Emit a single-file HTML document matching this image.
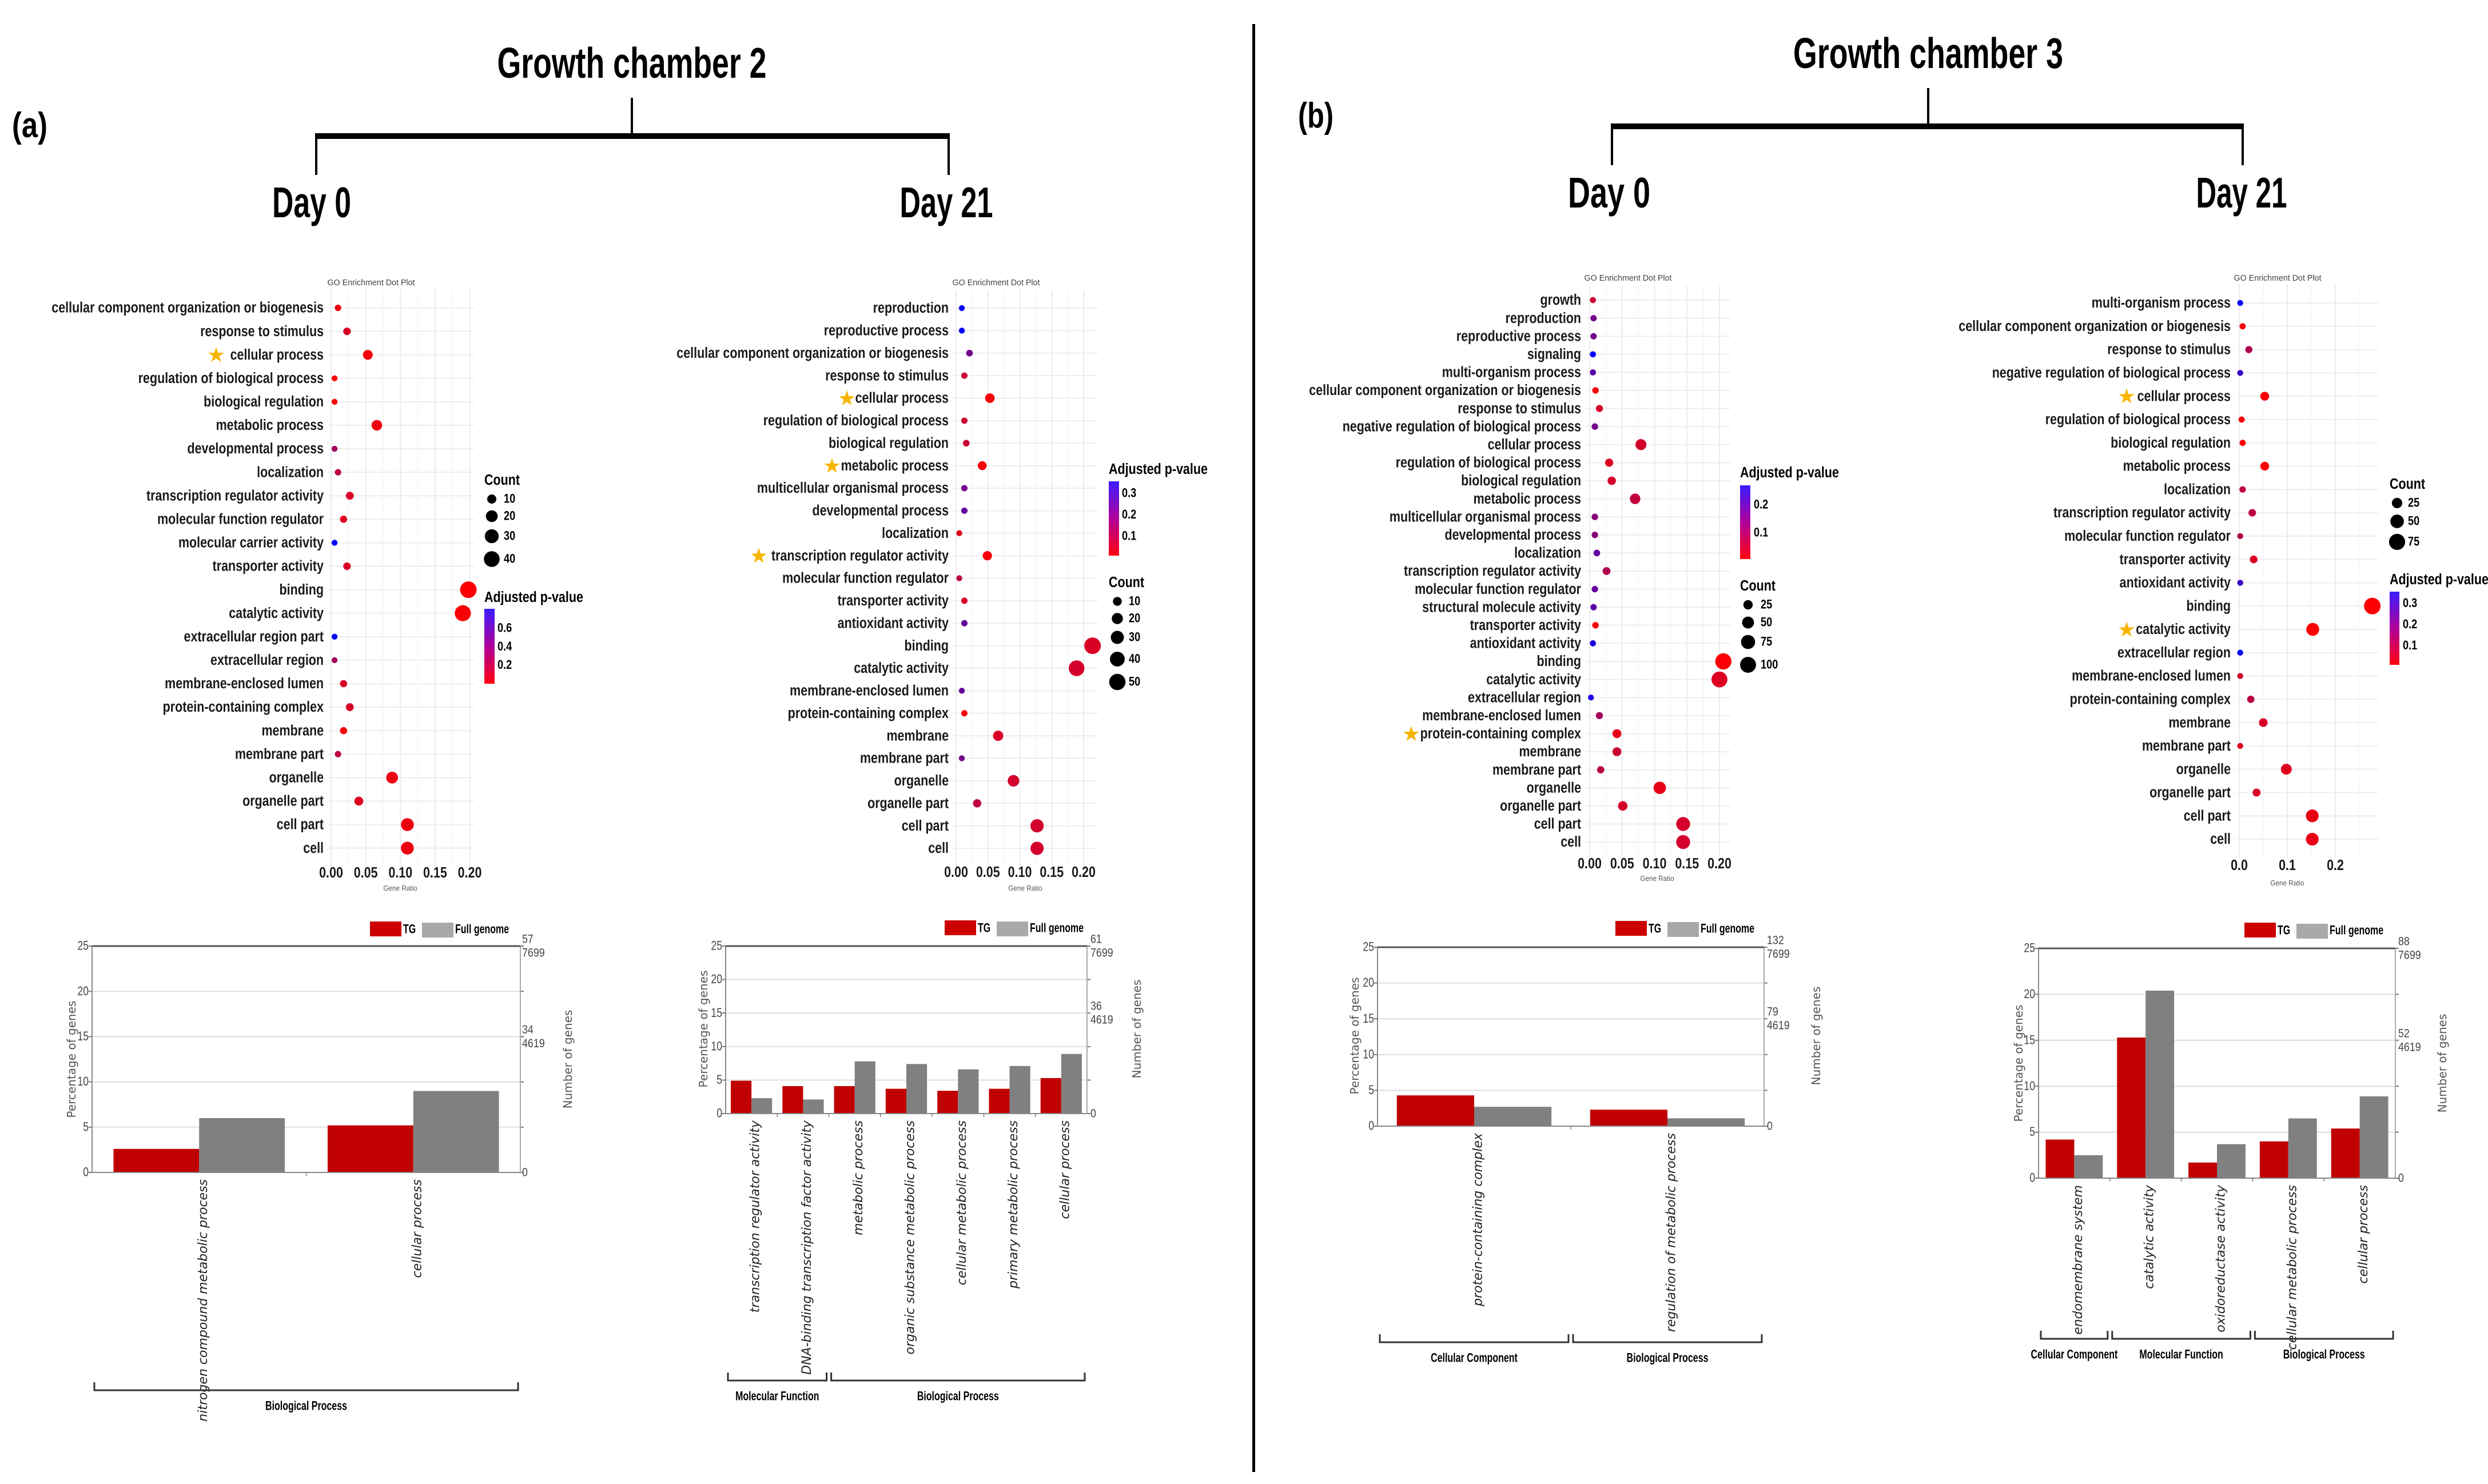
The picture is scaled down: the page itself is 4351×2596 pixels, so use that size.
<!DOCTYPE html>
<html><head><meta charset="utf-8"><title>GO enrichment figure</title>
<style>html,body{margin:0;padding:0;background:#fff}svg{display:block}</style></head>
<body>
<svg id="figure" xmlns="http://www.w3.org/2000/svg" width="4351" height="2596" viewBox="0 0 4351 2596">
<rect x="0" y="0" width="4351" height="2596" fill="#fff"/>
</svg>
<script>
// ---------- DATA ----------
const d1Terms=["cellular component organization or biogenesis","response to stimulus","cellular process","regulation of biological process","biological regulation","metabolic process","developmental process","localization","transcription regulator activity","molecular function regulator","molecular carrier activity","transporter activity","binding","catalytic activity","extracellular region part","extracellular region","membrane-enclosed lumen","protein-containing complex","membrane","membrane part","organelle","organelle part","cell part","cell"];
const d1Ratio=[0.010,0.023,0.053,0.005,0.005,0.066,0.005,0.010,0.027,0.018,0.005,0.023,0.198,0.190,0.005,0.005,0.018,0.027,0.018,0.010,0.088,0.040,0.110,0.110];
const d1Count=[2,5,12,1,1,15,1,2,6,4,1,5,45,42,1,1,4,6,4,2,20,9,25,25];
const d1Padj=[0.05,0.12,0.03,0.01,0.01,0.05,0.3,0.2,0.12,0.1,0.8,0.12,0.01,0.02,0.8,0.3,0.12,0.12,0.03,0.2,0.06,0.1,0.05,0.05];
const d1Ticks=[0,0.05,0.10,0.15,0.20];
const d1TickLabels=["0.00","0.05","0.10","0.15","0.20"];
const d1LegCounts=[10,20,30,40];
const d1LegP=[0.6,0.4,0.2];

const d2Terms=["reproduction","reproductive process","cellular component organization or biogenesis","response to stimulus","cellular process","regulation of biological process","biological regulation","metabolic process","multicellular organismal process","developmental process","localization","transcription regulator activity","molecular function regulator","transporter activity","antioxidant activity","binding","catalytic activity","membrane-enclosed lumen","protein-containing complex","membrane","membrane part","organelle","organelle part","cell part","cell"];
const d2Ratio=[0.009,0.009,0.021,0.013,0.053,0.013,0.016,0.041,0.013,0.013,0.005,0.049,0.005,0.013,0.013,0.214,0.189,0.009,0.013,0.066,0.009,0.090,0.033,0.127,0.127];
const d2Count=[1,1,3,2,13,2,3,10,2,2,1,12,1,2,2,52,46,1,2,16,1,22,8,31,31];
const d2Padj=[0.35,0.35,0.2,0.08,0.02,0.08,0.08,0.02,0.2,0.22,0.05,0.02,0.1,0.06,0.22,0.06,0.07,0.22,0.03,0.06,0.2,0.07,0.1,0.07,0.07];
const d2Ticks=[0,0.05,0.10,0.15,0.20];
const d2TickLabels=["0.00","0.05","0.10","0.15","0.20"];
const d2LegCounts=[10,20,30,40,50];
const d2LegP=[0.3,0.2,0.1];

const d3Terms=["growth","reproduction","reproductive process","signaling","multi-organism process","cellular component organization or biogenesis","response to stimulus","negative regulation of biological process","cellular process","regulation of biological process","biological regulation","metabolic process","multicellular organismal process","developmental process","localization","transcription regulator activity","molecular function regulator","structural molecule activity","transporter activity","antioxidant activity","binding","catalytic activity","extracellular region","membrane-enclosed lumen","protein-containing complex","membrane","membrane part","organelle","organelle part","cell part","cell"];
const d3Ratio=[0.005,0.006,0.006,0.005,0.005,0.009,0.015,0.008,0.079,0.030,0.034,0.070,0.008,0.008,0.011,0.026,0.008,0.006,0.009,0.005,0.206,0.200,0.002,0.015,0.042,0.042,0.017,0.108,0.051,0.144,0.144];
const d3Count=[2,3,3,2,2,4,8,4,40,15,17,35,4,4,5,13,4,3,4,2,105,100,1,8,21,21,9,55,26,73,73];
const d3Padj=[0.06,0.15,0.15,0.27,0.18,0.01,0.05,0.15,0.05,0.04,0.05,0.07,0.13,0.13,0.17,0.09,0.17,0.18,0.01,0.24,0.01,0.04,0.24,0.1,0.03,0.06,0.08,0.03,0.05,0.05,0.05];
const d3Ticks=[0,0.05,0.10,0.15,0.20];
const d3TickLabels=["0.00","0.05","0.10","0.15","0.20"];
const d3LegCounts=[25,50,75,100];
const d3LegP=[0.2,0.1];

const d4Terms=["multi-organism process","cellular component organization or biogenesis","response to stimulus","negative regulation of biological process","cellular process","regulation of biological process","biological regulation","metabolic process","localization","transcription regulator activity","molecular function regulator","transporter activity","antioxidant activity","binding","catalytic activity","extracellular region","membrane-enclosed lumen","protein-containing complex","membrane","membrane part","organelle","organelle part","cell part","cell"];
const d4Ratio=[0.002,0.007,0.020,0.002,0.053,0.005,0.007,0.053,0.007,0.027,0.002,0.030,0.002,0.277,0.153,0.002,0.002,0.024,0.050,0.002,0.098,0.036,0.152,0.152];
const d4Count=[1,2,6,1,15,2,2,15,3,8,1,9,1,80,44,1,1,7,14,1,28,10,43,43];
const d4Padj=[0.35,0.02,0.12,0.28,0.02,0.02,0.02,0.02,0.1,0.1,0.12,0.06,0.28,0.01,0.01,0.35,0.07,0.1,0.06,0.05,0.05,0.06,0.04,0.04];
const d4Ticks=[0,0.1,0.2];
const d4TickLabels=["0.0","0.1","0.2"];
const d4LegCounts=[25,50,75];
const d4LegP=[0.3,0.2,0.1];

const b1Cats=["nitrogen compound metabolic process","cellular process"];
const b1TG=[2.6,5.2];
const b1FG=[6.0,9.0];
const b2Cats=["transcription regulator activity","DNA-binding transcription factor activity","metabolic process","organic substance metabolic process","cellular metabolic process","primary metabolic process","cellular process"];
const b2TG=[4.9,4.1,4.1,3.7,3.4,3.7,5.3];
const b2FG=[2.3,2.1,7.8,7.4,6.6,7.1,8.9];
const b3Cats=["protein-containing complex","regulation of metabolic process"];
const b3TG=[4.3,2.3];
const b3FG=[2.7,1.1];
const b4Cats=["endomembrane system","catalytic activity","oxidoreductase activity","cellular metabolic process","cellular process"];
const b4TG=[4.2,15.3,1.7,4.0,5.4];
const b4FG=[2.5,20.4,3.7,6.5,8.9];
const barYTicks=[0,5,10,15,20,25];
const b1Right=["57","7699","34","4619"];
const b2Right=["61","7699","36","4619"];
const b3Right=["132","7699","79","4619"];
const b4Right=["88","7699","52","4619"];

// ---------- HELPERS ----------
const NS='http://www.w3.org/2000/svg';
const svg=document.getElementById('figure');
function mk(tag,parent,attrs){const e=document.createElementNS(NS,tag);for(const k in attrs)e.setAttribute(k,attrs[k]);parent.appendChild(e);return e;}
function txt(parent,str,x,y,size,o){o=o||{};
 const e=mk('text',parent,{'font-size':size,'font-family':o.family||'"Liberation Sans", sans-serif','font-weight':o.weight||'normal','text-anchor':o.anchor||'start','fill':o.fill||'#000','dominant-baseline':o.baseline||'central'});
 if(o.italic)e.setAttribute('font-style','italic');
 let tr='translate('+x+','+y+')';if(o.rot)tr+=' rotate('+o.rot+')';if(o.sx)tr+=' scale('+o.sx+',1)';
 e.setAttribute('transform',tr);
 if(o.len){e.setAttribute('textLength',o.len);e.setAttribute('lengthAdjust','spacingAndGlyphs');}
 e.textContent=str;return e;}
function measure(str,size,weight,fallback){let l=0;try{const t=mk('text',svg,{'font-size':size,'font-family':'"Liberation Sans", sans-serif','font-weight':weight});t.textContent=str;l=t.getComputedTextLength();svg.removeChild(t);}catch(e){l=0;}return (l&&l>10)?l:fallback;}
const SX_LABEL=476/measure("cellular component organization or biogenesis",26,'bold',652);
const SX_SMALL=143/measure("Biological Process",22,'bold',200);
const SX_TITLE=153/measure("GO Enrichment Dot Plot",15,'normal',170);
function pColor(p,pmin,pmax){let t=(p-pmin)/(pmax-pmin);t=Math.max(0,Math.min(1,t));const r=Math.round(255*(1-t)),b=Math.round(255*t);return 'rgb('+r+',0,'+b+')';}

// ---------- HEADER ----------
function header(L,id){
 const g=mk('g',svg,{});
 
 
 const t=txt(g,L.title,L.tx,L.ty,75,{weight:'bold',anchor:'middle',baseline:'alphabetic',len:L.tw});
 
 
 const stem=mk('line',g,{x1:L.sx,x2:L.sx,y1:L.sy1,y2:L.hy,stroke:'#000','stroke-width':4});
 
 
 const bar=mk('rect',g,{x:L.hx1,y:L.hy,width:L.hx2-L.hx1,height:10,fill:'#000'});
 
 
 [L.hx1+2,L.hx2-2].forEach(x=>{const v=mk('line',g,{x1:x,x2:x,y1:L.hy+5,y2:L.vy2,stroke:'#000','stroke-width':4});
  
  });
 const d0=txt(g,'Day 0',L.d0x,L.dy,75,{weight:'bold',anchor:'middle',baseline:'alphabetic',len:L.d0w});
 
 
 const d21=txt(g,'Day 21',L.d21x,L.dy,75,{weight:'bold',anchor:'middle',baseline:'alphabetic',len:L.d21w});
 
 
 const pl=txt(g,L.panel,L.px,L.py,62,{weight:'bold',baseline:'alphabetic',len:L.pw});
 
 
}
header({title:'Growth chamber 2',tx:1105,ty:136,tw:471,sx:1105,sy1:171,hy:233,hx1:551,hx2:1661,vy2:306,d0x:545,d21x:1655,dy:380,d0w:138,d21w:163,panel:'(a)',px:21,py:240,pw:62},'header-growth-chamber-2');
header({title:'Growth chamber 3',tx:3372,ty:119,tw:472,sx:3372,sy1:154,hy:216,hx1:2817,hx2:3924,vy2:289,d0x:2814,d21x:3920,dy:363,d0w:144,d21w:159,panel:'(b)',px:2270,py:223,pw:62},'header-growth-chamber-3');
const div=mk('rect',svg,{x:2190,y:42,width:5,height:2533,fill:'#000'});



// ---------- DOT PLOTS ----------
function drawDot(id,L,terms,ratio,count,padj,ticks,tickLabels,legCounts,legP){
 const g=mk('g',svg,{});
 
 
 const n=terms.length,step=(L.yLast-L.yFirst)/(n-1);
 const tmax=ticks[ticks.length-1];
 const xs=v=>L.x0+(L.xTickPx-L.x0)*v/tmax;
 const ys=i=>L.yFirst+i*step;
 const top=L.yFirst-step*0.8,bot=L.yLast+step*0.8;
 const half=(ticks[1]-ticks[0])/2;
 for(let k=0;xs(k*half)<=L.plotR;k++){
  const x=xs(k*half);
  const gl=mk('line',g,{x1:x,x2:x,y1:top,y2:bot,stroke:k%2?'#f5f5f5':'#ececec','stroke-width':k%2?1.2:2});
  
  }
 for(let i=0;i<n;i++){
  const gl=mk('line',g,{x1:L.plotL,x2:L.plotR,y1:ys(i),y2:ys(i),stroke:'#ededed','stroke-width':2});
  
  }
 const tt=txt(g,'GO Enrichment Dot Plot',L.titleX,L.titleY,15,{anchor:'middle',fill:'#444',sx:SX_TITLE});
 
 
 const rad=c=>Math.sqrt(5.2*5.2+(14.5*14.5-5.2*5.2)*Math.max(0,c-1)/(L.nmax-1));
 for(let i=0;i<n;i++){
  const lb=txt(g,terms[i],L.labelR,ys(i),26,{weight:'bold',anchor:'end',fill:'#1a1a1a',sx:SX_LABEL});
  
  
  const c=mk('circle',g,{cx:xs(ratio[i]),cy:ys(i),r:rad(count[i]),fill:pColor(padj[i],L.pmin,L.pmax)});
  
  
 }
 for(let k=0;k<ticks.length;k++){
  const tl=txt(g,tickLabels[k],xs(ticks[k]),L.tickY,26,{weight:'bold',anchor:'middle',fill:'#1a1a1a',sx:SX_LABEL});
  
  }
 const gr=txt(g,'Gene Ratio',L.geneX,L.geneY,13,{anchor:'middle',fill:'#555',sx:0.9});
 
 
 L.stars.forEach(s=>{const st=txt(g,'\u2605',s[1],ys(s[0])+1,36,{anchor:'middle',fill:'#f7b500',family:'"DejaVu Sans", sans-serif'});
  
  });
 const ct=txt(g,'Count',L.cX,L.cY,26,{weight:'bold',sx:SX_LABEL});
 
 
 legCounts.forEach((c,k)=>{
  const d=mk('circle',g,{cx:L.cDotX,cy:L.cYs[k],r:rad(c),fill:'#000'});
  
  
  const l=txt(g,String(c),L.cLabX,L.cYs[k],22,{weight:'bold',sx:SX_LABEL});
  
  });
 const pt=txt(g,'Adjusted p-value',L.pX,L.pY,26,{weight:'bold',sx:SX_LABEL});
 
 
 const gid='grad-'+id;
 const defs=mk('defs',g,{});
 const lg=mk('linearGradient',defs,{id:gid,x1:0,y1:0,x2:0,y2:1});
 mk('stop',lg,{'offset':'0','stop-color':'#3b1cff'});
 mk('stop',lg,{'offset':'0.5','stop-color':'#b0009a'});
 mk('stop',lg,{'offset':'1','stop-color':'#ff0010'});
 const gb=mk('rect',g,{x:L.gx1,y:L.gy1,width:L.gx2-L.gx1,height:L.gy2-L.gy1,fill:'url(#'+gid+')'});
 
 
 const py=v=>L.gy2-(L.gy2-L.gy1)*(v-L.pmin)/(L.pmax-L.pmin);
 legP.forEach(v=>{
  const l=txt(g,String(v),L.gLabX,py(v),22,{weight:'bold',sx:SX_LABEL});
  
  });
}
drawDot('dot-plot-gc2-day0',{x0:579,xTickPx:821.5,yFirst:538.5,yLast:1483.6,labelR:566,plotL:574,plotR:829,tickY:1527,titleX:649,titleY:495,geneX:700,geneY:1554,nmax:45,pmin:0,pmax:0.81,
 cX:847,cY:840,cDotX:860,cYs:[873,903,938,978],cLabX:881,pX:847,pY:1045,gx1:847,gx2:865,gy1:1065,gy2:1196,gLabX:870,stars:[[2,378]]},d1Terms,d1Ratio,d1Count,d1Padj,d1Ticks,d1TickLabels,d1LegCounts,d1LegP);
drawDot('dot-plot-gc2-day21',{x0:1672,xTickPx:1895,yFirst:539,yLast:1484,labelR:1659,plotL:1667,plotR:1920,tickY:1526,titleX:1742,titleY:495,geneX:1793,geneY:1554,nmax:52,pmin:0.01,pmax:0.356,
 cX:1939,cY:1019,cDotX:1954,cYs:[1052,1082,1115,1153,1193],cLabX:1974,pX:1939,pY:821,gx1:1939,gx2:1957,gy1:842,gy2:972,gLabX:1962,stars:[[4,1481],[7,1455],[11,1327]]},d2Terms,d2Ratio,d2Count,d2Padj,d2Ticks,d2TickLabels,d2LegCounts,d2LegP);
drawDot('dot-plot-gc3-day0',{x0:2780,xTickPx:3007,yFirst:525,yLast:1473,labelR:2765,plotL:2774,plotR:3026,tickY:1511,titleX:2847,titleY:487,geneX:2898,geneY:1537,nmax:110,pmin:0.006,pmax:0.27,
 cX:3043,cY:1025,cDotX:3057,cYs:[1058,1089,1123,1163],cLabX:3079,pX:3043,pY:827,gx1:3043,gx2:3061,gy1:849,gy2:978,gLabX:3067,stars:[[24,2468]]},d3Terms,d3Ratio,d3Count,d3Padj,d3Ticks,d3TickLabels,d3LegCounts,d3LegP);
drawDot('dot-plot-gc3-day21',{x0:3916,xTickPx:4084,yFirst:530,yLast:1468,labelR:3901,plotL:3911,plotR:4159,tickY:1514,titleX:3983,titleY:487,geneX:4000,geneY:1545,nmax:80,pmin:0.01,pmax:0.355,
 cX:4179,cY:847,cDotX:4192,cYs:[880,912,948],cLabX:4211,pX:4179,pY:1014,gx1:4179,gx2:4196,gy1:1035,gy2:1163,gLabX:4202,stars:[[4,3719],[14,3719]]},d4Terms,d4Ratio,d4Count,d4Padj,d4Ticks,d4TickLabels,d4LegCounts,d4LegP);

// ---------- BAR CHARTS ----------
function drawBar(id,L,cats,tg,fg,right,groups){
 const g=mk('g',svg,{});
 
 
 const ymax=barYTicks[barYTicks.length-1];
 const yv=v=>L.y0-(L.y0-L.y25)*v/ymax;
 const gw=(L.right-L.left)/cats.length;
 barYTicks.forEach(v=>{
  if(v>0&&v<ymax){const gl=mk('line',g,{x1:L.left,x2:L.right,y1:yv(v),y2:yv(v),stroke:'#dedede','stroke-width':2});
   
   }
  const tk=mk('line',g,{x1:L.left-6,x2:L.left,y1:yv(v),y2:yv(v),stroke:'#777','stroke-width':2});
  
  
  const tk2=mk('line',g,{x1:L.right,x2:L.right+6,y1:yv(v),y2:yv(v),stroke:'#777','stroke-width':2});
  
  
  const tl=txt(g,String(v),L.left-6,yv(v),22,{anchor:'end',fill:'#444',sx:0.8});
  
  });
 cats.forEach((c,i)=>{
  const r=mk('rect',g,{x:L.left+gw*(i+0.1),y:yv(tg[i]),width:gw*0.4,height:yv(0)-yv(tg[i]),fill:'#c00000'});
  
  
  const f=mk('rect',g,{x:L.left+gw*(i+0.5),y:yv(fg[i]),width:gw*0.4,height:yv(0)-yv(fg[i]),fill:'#808080'});
  
  
  const lb=txt(g,c,L.left+gw*(i+0.5)+7,L.y0+12,22,{anchor:'end',rot:-90,italic:true,fill:'#222',family:'"DejaVu Sans", sans-serif'});
  
  
  if(i>0){const sep=mk('line',g,{x1:L.left+gw*i,x2:L.left+gw*i,y1:L.y0,y2:L.y0+6,stroke:'#999','stroke-width':2});
   
   }
 });
 const axes=[[L.left,L.y25,L.left,L.y0,'#888',2,'y-axis-line'],[L.right,L.y25,L.right,L.y0,'#aaa',2,'y2-axis-line'],[L.left,L.y25,L.right,L.y25,'#555',3,'top-border'],[L.left,L.y0,L.right,L.y0,'#888',2,'x-axis-line']];
 axes.forEach(a=>{const l=mk('line',g,{x1:a[0],y1:a[1],x2:a[2],y2:a[3],stroke:a[4],'stroke-width':a[5]});
  
  });
 const rys=[yv(25)-12,yv(25)+12,yv(15)-12,yv(15)+12,yv(0)];
 right.concat(["0"]).forEach((s,k)=>{const t=txt(g,s,L.rightX,rys[k],21,{fill:'#444',sx:0.85});
  
  });
 const pt=txt(g,'Percentage of genes',L.percX,L.percY,20,{anchor:'middle',rot:-90,fill:'#555',family:'"DejaVu Sans", sans-serif'});
 
 
 const nt=txt(g,'Number of genes',L.numX,L.numY,20,{anchor:'middle',rot:-90,fill:'#555',family:'"DejaVu Sans", sans-serif'});
 
 
 const rb=mk('rect',g,{x:L.lx,y:L.ly,width:55,height:26,fill:'#cc0000'});
 
 
 const rt=txt(g,'TG',L.lx+58,L.ly+14,22,{weight:'bold',sx:SX_SMALL});
 
 
 const gb=mk('rect',g,{x:L.lx+91,y:L.ly+2,width:55,height:26,fill:'#a9a9a9'});
 
 
 const gt=txt(g,'Full genome',L.lx+149,L.ly+14,22,{weight:'bold',sx:SX_SMALL});
 
 
 groups.forEach(gr=>{
  const x1=L.left+gw*gr[0]+4,x2=L.left+gw*(gr[1]+1)-4;
  const p=mk('path',g,{d:'M'+x1+' '+(L.bY-14)+'V'+L.bY+'H'+x2+'V'+(L.bY-14),fill:'none',stroke:'#333','stroke-width':3});
  
  
  const t=txt(g,gr[2],(x1+x2)/2,L.bY+28,22,{weight:'bold',anchor:'middle',sx:SX_SMALL});
  
  
 });
}
drawBar('bar-chart-gc2-day0',{left:161,right:910,y0:2051,y25:1655,rightX:913,percX:125,percY:1853,numX:993,numY:1853,lx:647,ly:1612,bY:2432},b1Cats,b1TG,b1FG,b1Right,[[0,1,'Biological Process']]);
drawBar('bar-chart-gc2-day21',{left:1269,right:1901,y0:1948,y25:1655,rightX:1907,percX:1230,percY:1800,numX:1988,numY:1800,lx:1652,ly:1610,bY:2415},b2Cats,b2TG,b2FG,b2Right,[[0,1,'Molecular Function'],[2,6,'Biological Process']]);
drawBar('bar-chart-gc3-day0',{left:2409,right:3085,y0:1970,y25:1657,rightX:3090,percX:2369,percY:1812,numX:3176,numY:1812,lx:2825,ly:1611,bY:2348},b3Cats,b3TG,b3FG,b3Right,[[0,0,'Cellular Component'],[1,1,'Biological Process']]);
drawBar('bar-chart-gc3-day21',{left:3565,right:4189,y0:2061,y25:1659,rightX:4194,percX:3530,percY:1860,numX:4271,numY:1860,lx:3925,ly:1614,bY:2342},b4Cats,b4TG,b4FG,b4Right,[[0,0,'Cellular Component'],[1,2,'Molecular Function'],[3,4,'Biological Process']]);
</script>
</body></html>
